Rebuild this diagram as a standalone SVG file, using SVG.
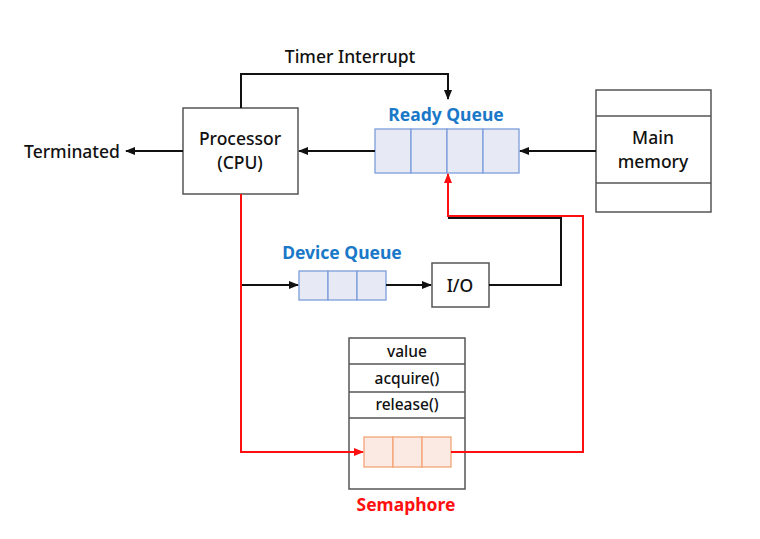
<svg xmlns="http://www.w3.org/2000/svg" width="760" height="539" viewBox="0 0 760 539">
<defs>
<style>
text{font-family:"Noto Sans","Noto Sans CJK KR",sans-serif;font-size:17.5px;fill:#111;text-anchor:middle}
.lbl{font-weight:500}
.blue{fill:#1a78c8;font-weight:700}
.red{fill:#ff1010;font-weight:700}
.box{fill:#fff;stroke:#555;stroke-width:1.5}
.q{fill:#e7eaf5;stroke:#7d9ddb;stroke-width:1.3}
.sq{fill:#fbeae4;stroke:#f5a374;stroke-width:1.3}
.k{fill:none;stroke:#111;stroke-width:2}
.r{fill:none;stroke:#ff1010;stroke-width:2}
.sm{font-size:15.5px;font-weight:500}
</style>
<marker id="ak" viewBox="0 0 10 10" refX="9" refY="5" markerWidth="5" markerHeight="5" orient="auto"><path d="M0,1 L10,5 L0,9 z" fill="#111"/></marker>
<marker id="ar" viewBox="0 0 10 10" refX="9" refY="5" markerWidth="5" markerHeight="5" orient="auto"><path d="M0,1 L10,5 L0,9 z" fill="#ff1010"/></marker>
</defs>
<g id="timer-label"><text class="lbl" x="350" y="63">Timer Interrupt</text></g>
<g id="terminated"><text class="lbl" x="72" y="158">Terminated</text></g>
<g id="processor">
<rect class="box" x="183" y="108" width="115" height="86"/>
<text class="lbl" x="240" y="145">Processor</text>
<text class="lbl" x="240" y="169">(CPU)</text>
</g>
<g id="ready-queue">
<text class="blue" x="446" y="121">Ready Queue</text>
<rect class="q" x="375" y="129" width="36" height="44"/>
<rect class="q" x="411" y="129" width="36" height="44"/>
<rect class="q" x="447" y="129" width="36" height="44"/>
<rect class="q" x="483" y="129" width="36" height="44"/>
</g>
<g id="main-memory">
<rect class="box" x="596" y="90" width="115" height="122"/>
<line x1="596" y1="116" x2="711" y2="116" stroke="#555" stroke-width="1.5"/>
<line x1="596" y1="183" x2="711" y2="183" stroke="#555" stroke-width="1.5"/>
<text class="lbl" x="653" y="144">Main</text>
<text class="lbl" x="653" y="168">memory</text>
</g>
<g id="device-queue">
<text class="blue" x="342" y="259">Device Queue</text>
<rect class="q" x="299" y="271" width="29" height="29"/>
<rect class="q" x="328" y="271" width="29" height="29"/>
<rect class="q" x="357" y="271" width="29" height="29"/>
</g>
<g id="io">
<rect class="box" x="432" y="263" width="57" height="44"/>
<text class="lbl" x="460" y="292">I/O</text>
</g>
<g id="semaphore">
<rect class="box" x="349" y="338" width="116" height="151"/>
<line x1="349" y1="364" x2="465" y2="364" stroke="#555" stroke-width="1.5"/>
<line x1="349" y1="392" x2="465" y2="392" stroke="#555" stroke-width="1.5"/>
<line x1="349" y1="418" x2="465" y2="418" stroke="#555" stroke-width="1.5"/>
<text class="sm" x="407" y="357">value</text>
<text class="sm" x="407" y="384">acquire()</text>
<text class="sm" x="407" y="410">release()</text>
<rect class="sq" x="364" y="437" width="29" height="30"/>
<rect class="sq" x="393" y="437" width="29" height="30"/>
<rect class="sq" x="422" y="437" width="29" height="30"/>
<text class="red" x="406" y="511">Semaphore</text>
</g>
<g id="connectors">
<path class="k" d="M241,108 V74 H448 V99" marker-end="url(#ak)"/>
<path class="k" d="M375,151 H299" marker-end="url(#ak)"/>
<path class="k" d="M183,151 H126" marker-end="url(#ak)"/>
<path class="k" d="M596,151 H520" marker-end="url(#ak)"/>
<path class="k" d="M489,285 H561 V218 H448"/>
<path class="r" d="M241,194 V452 H363" marker-end="url(#ar)"/>
<path class="r" d="M451,452 H583 V216 H448 V174" marker-end="url(#ar)"/>
<path class="k" d="M242,285 H298" marker-end="url(#ak)"/>
<path class="k" d="M386,285 H431" marker-end="url(#ak)"/>
</g>
</svg>
